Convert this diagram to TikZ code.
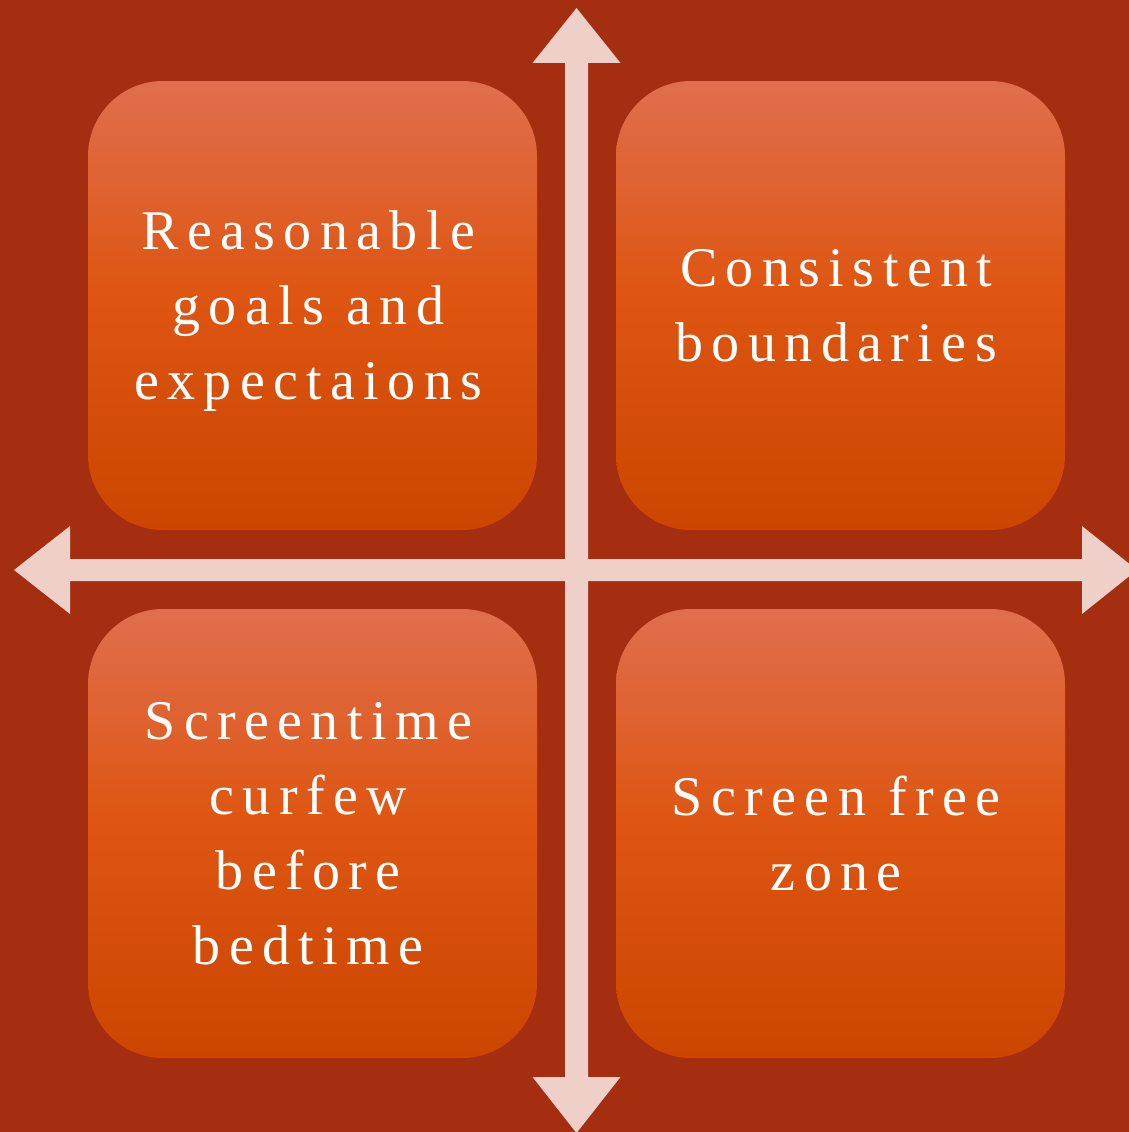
\documentclass[tikz,border=0pt]{standalone}
\usepackage{fontspec}
\setmainfont{Liberation Serif}
\newfontfamily\boxfont[LetterSpace=15]{Liberation Serif}
\definecolor{bgred}{RGB}{165,46,16}
\definecolor{axiscol}{RGB}{239,208,200}
\definecolor{boxtop}{RGB}{224,110,78}
\definecolor{boxmid}{RGB}{222,86,18}
\definecolor{boxbot}{RGB}{204,70,0}
\pgfdeclareverticalshading{boxshade}{100bp}{color(0bp)=(boxbot); color(25bp)=(boxbot); color(52bp)=(boxmid); color(75bp)=(boxtop); color(100bp)=(boxtop)}
\begin{document}
\begin{tikzpicture}[x=1pt,y=-1pt,
  box/.style={rounded corners=75pt, minimum width=449pt, minimum height=449pt,
    shading=boxshade, draw=none, inner sep=0pt},
  boxtext/.style={text=white, align=center, inner sep=0pt, xshift=-4.2pt,
    font=\boxfont\fontsize{56pt}{75pt}\selectfont},
  axis/.style={fill=axiscol, draw=none}]
\fill[bgred] (0,0) rectangle (1129,1132);
\useasboundingbox (0,0) rectangle (1129,1132);
\clip (0,0) rectangle (1129,1132);
% boxes
\node[box, label={[boxtext, yshift=-6pt]center:{Reasonable\\goals and\\expectaions}}] (tl) at (312.5,305.5) {};
\node[box, label={[boxtext]center:{Consistent\\boundaries}}] (tr) at (840.5,305.5) {};
\node[box, label={[boxtext]center:{Screentime\\curfew\\before\\bedtime}}] (bl) at (312.5,833.5) {};
\node[box, label={[boxtext]center:{Screen free\\zone}}] (br) at (840.5,833.5) {};
% axes
\coordinate (top) at (576.5,8);
\coordinate (bottom) at (576.5,1133);
\coordinate (left) at (14,570);
\coordinate (right) at (1137,570);
\fill[axis] (top) -- (620.5,63) -- (588,63) -- (588,559) -- (1082,559) -- (1082,526)
  -- (right) -- (1082,614) -- (1082,581) -- (588,581) -- (588,1077) -- (620.5,1077)
  -- (bottom) -- (532.5,1077) -- (565,1077) -- (565,581) -- (70,581) -- (70,614)
  -- (left) -- (70,526) -- (70,559) -- (565,559) -- (565,63) -- (532.5,63) -- cycle;
\end{tikzpicture}
\end{document}
